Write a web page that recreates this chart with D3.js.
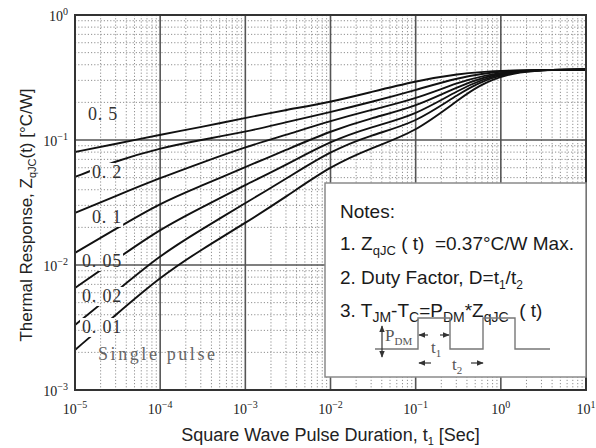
<!doctype html>
<html>
<head>
<meta charset="utf-8">
<title>Transient Thermal Response</title>
<script src="https://cdn.jsdelivr.net/npm/d3@7/dist/d3.min.js"></script>
<style>
  body { margin: 0; background: #fff; }
  svg { display: block; font-family: "Liberation Sans", Arial, sans-serif; }
</style>
</head>
<body>
<div id="chart"></div>
<script>
var pulseTimes = [1e-5, 3e-5, 1e-4, 3e-4, 1e-3, 3e-3, 1e-2, 3e-2, 1e-1, 3e-1, 1, 10];

// Z_thJC (°C/W) for each duty factor
var duty05   = [0.0802, 0.0929, 0.110, 0.127, 0.150, 0.174, 0.201, 0.242, 0.296, 0.337, 0.363, 0.366];
var duty02   = [0.0506, 0.0679, 0.0863, 0.100, 0.116, 0.139, 0.167, 0.201, 0.251, 0.313, 0.363, 0.366];
var duty01   = [0.0261, 0.0356, 0.0497, 0.0655, 0.0879, 0.110, 0.142, 0.174, 0.213, 0.286, 0.363, 0.366];
var duty005  = [0.0125, 0.0194, 0.0313, 0.0429, 0.0608, 0.0832, 0.118, 0.150, 0.184, 0.265, 0.363, 0.366];
var duty002  = [0.00655, 0.0110, 0.0194, 0.0286, 0.0437, 0.0631, 0.0982, 0.127, 0.158, 0.247, 0.363, 0.366];
var duty001  = [0.00331, 0.00608, 0.0120, 0.0191, 0.0313, 0.0488, 0.0817, 0.110, 0.137, 0.229, 0.363, 0.366];
var singlePulse = [0.00209, 0.00398, 0.00802, 0.0132, 0.0217, 0.0350, 0.0619, 0.0863, 0.116, 0.205, 0.363, 0.366];

var seriesList = [duty05, duty02, duty01, duty005, duty002, duty001, singlePulse];

// curve labels: text, t at left edge of text, Z at baseline
var labelTexts = ["0. 5", "0. 2", "0. 1", "0. 05", "0. 02", "0. 01", "Single pulse"];
var labelTimes = [1.42e-5, 1.58e-5, 1.58e-5, 1.21e-5, 1.21e-5, 1.21e-5, 1.86e-5];
var labelZ     = [0.145, 0.0497, 0.0217, 0.00964, 0.00506, 0.00286, 0.00174];

var xTickPowers = [-5, -4, -3, -2, -1, 0, 1];
var yTickPowers = [-3, -2, -1, 0];

var width = 596, height = 448;
var margin = {top: 15, right: 10, bottom: 58, left: 75};

var svg = d3.select("#chart").append("svg")
    .attr("width", width)
    .attr("height", height);

var x = d3.scaleLog().domain([1e-5, 10]).range([margin.left, width - margin.right]);
var y = d3.scaleLog().domain([1e-3, 1]).range([height - margin.bottom, margin.top]);

function isDecade(v) {
    var p = Math.log10(v);
    return Math.abs(p - Math.round(p)) < 1e-9;
}

// grid
var grid = svg.append("g").attr("class", "grid");
var xt = x.ticks(), yt = y.ticks();

grid.selectAll(".xminor").data(xt.filter(function(d) { return !isDecade(d); }))
  .enter().append("line")
    .attr("x1", function(d) { return x(d); }).attr("x2", function(d) { return x(d); })
    .attr("y1", y(1)).attr("y2", y(1e-3))
    .style("stroke", "#8f8f8f").style("stroke-width", 1).style("stroke-dasharray", "1.2,2");

grid.selectAll(".yminor").data(yt.filter(function(d) { return !isDecade(d); }))
  .enter().append("line")
    .attr("y1", function(d) { return y(d); }).attr("y2", function(d) { return y(d); })
    .attr("x1", x(1e-5)).attr("x2", x(10))
    .style("stroke", "#8f8f8f").style("stroke-width", 1).style("stroke-dasharray", "1.2,2");

grid.selectAll(".xmajor").data(xTickPowers.slice(1, -1))
  .enter().append("line")
    .attr("x1", function(d) { return x(Math.pow(10, d)); }).attr("x2", function(d) { return x(Math.pow(10, d)); })
    .attr("y1", y(1)).attr("y2", y(1e-3))
    .style("stroke", "#555").style("stroke-width", 1.6);

grid.selectAll(".ymajor").data(yTickPowers.slice(1, -1))
  .enter().append("line")
    .attr("y1", function(d) { return y(Math.pow(10, d)); }).attr("y2", function(d) { return y(Math.pow(10, d)); })
    .attr("x1", x(1e-5)).attr("x2", x(10))
    .style("stroke", "#555").style("stroke-width", 1.6);

// curve labels first, so the mask can cut the curves around them
var labels = svg.append("g").attr("class", "curve-labels");
labels.selectAll("text").data(labelTexts)
  .enter().append("text")
    .attr("x", function(d, i) { return x(labelTimes[i]); })
    .attr("y", function(d, i) { return y(labelZ[i]); })
    .style("font-family", "'Liberation Serif', 'Times New Roman', serif")
    .style("font-size", "18px")
    .style("letter-spacing", function(d) { return d.length > 6 ? "2.6px" : "0.8px"; })
    .style("fill", function(d) { return d.length > 6 ? "#666" : "#333"; })
    .text(function(d) { return d; });

var defs = svg.append("defs");
var mask = defs.append("mask").attr("id", "cut")
    .attr("maskUnits", "userSpaceOnUse")
    .attr("x", 0).attr("y", 0).attr("width", width).attr("height", height);
mask.append("rect").attr("width", width).attr("height", height).style("fill", "#fff");
labels.selectAll("text").each(function(d) {
    if (d.length > 6) return;
    var b = this.getBBox();
    mask.append("rect")
        .attr("x", b.x - 2).attr("y", b.y + 1)
        .attr("width", b.width + 3).attr("height", b.height - 1)
        .style("fill", "#000");
});

// curves
var line = d3.line()
    .x(function(d, i) { return x(pulseTimes[i]); })
    .y(function(d) { return y(d); })
    .curve(d3.curveBasis);

svg.append("g").attr("mask", "url(#cut)")
  .selectAll("path").data(seriesList)
  .enter().append("path")
    .attr("d", line)
    .style("fill", "none")
    .style("stroke", "#111")
    .style("stroke-width", 1.9);

// frame
svg.append("rect")
    .attr("x", x(1e-5)).attr("y", y(1))
    .attr("width", x(10) - x(1e-5)).attr("height", y(1e-3) - y(1))
    .style("fill", "none").style("stroke", "#333").style("stroke-width", 2);

// tick labels 10^n
function powerLabel(sel) {
    sel.style("font-family", "'Liberation Serif', 'Times New Roman', serif")
       .style("font-size", "14px")
       .style("fill", "#222");
    sel.append("tspan").text("10");
    sel.append("tspan")
        .attr("dy", -6)
        .style("font-size", "10px")
        .text(function(d) { return d < 0 ? "\u2212" + (-d) : String(d); });
}

svg.append("g").selectAll("text").data(xTickPowers)
  .enter().append("text")
    .attr("x", function(d) { return x(Math.pow(10, d)); })
    .attr("y", 414)
    .attr("text-anchor", "middle")
    .call(powerLabel);

svg.append("g").selectAll("text").data(yTickPowers)
  .enter().append("text")
    .attr("x", 68)
    .attr("y", function(d) { return y(Math.pow(10, d)) + 6; })
    .attr("text-anchor", "end")
    .call(powerLabel);

// axis titles
var xTitle = svg.append("text")
    .attr("x", (x(1e-5) + x(10)) / 2)
    .attr("y", 441)
    .attr("text-anchor", "middle")
    .style("font-size", "18px")
    .style("fill", "#222");
xTitle.append("tspan").text("Square Wave Pulse Duration, t");
xTitle.append("tspan").attr("dy", 4).style("font-size", "11px").text("1");
xTitle.append("tspan").attr("dy", -4).text(" [Sec]");

var yTitle = svg.append("text")
    .attr("transform", "translate(32,215) rotate(-90)")
    .attr("text-anchor", "middle")
    .style("font-size", "17px")
    .style("fill", "#222");
yTitle.append("tspan").text("Thermal Response, Z");
yTitle.append("tspan").attr("dy", 4).style("font-size", "11px").text("qJC");
yTitle.append("tspan").attr("dy", -4).text("(t) [\u00B0C/W]");

// notes box
var bx = 325, by = 183, bw = x(10) - 325, bh = 194;
var notes = svg.append("g").attr("class", "notes");
notes.append("rect")
    .attr("x", bx).attr("y", by).attr("width", bw).attr("height", bh)
    .style("fill", "#fff").style("stroke", "#8a8a8a").style("stroke-width", 1.5);

function noteLine(yy) {
    return notes.append("text")
        .attr("x", bx + 15).attr("y", yy)
        .style("white-space", "pre")
        .style("font-size", "19px").style("fill", "#1a1a1a");
}
noteLine(by + 35).text("Notes:");

var n1 = noteLine(by + 67);
n1.append("tspan").text("1. Z");
n1.append("tspan").attr("dy", 5).style("font-size", "13px").text("qJC");
n1.append("tspan").attr("dy", -5).text(" ( t)  =0.37\u00B0C/W Max.");

var n2 = noteLine(by + 101);
n2.append("tspan").text("2. Duty Factor, D=t");
n2.append("tspan").attr("dy", 5).style("font-size", "12px").text("1");
n2.append("tspan").attr("dy", -5).text("/t");
n2.append("tspan").attr("dy", 5).style("font-size", "12px").text("2");

var n3 = noteLine(by + 134);
n3.append("tspan").text("3. T");
n3.append("tspan").attr("dy", 5).style("font-size", "14px").text("JM");
n3.append("tspan").attr("dy", -5).text("-T");
n3.append("tspan").attr("dy", 5).style("font-size", "14px").text("C");
n3.append("tspan").attr("dy", -5).text("=P");
n3.append("tspan").attr("dy", 5).style("font-size", "14px").text("DM");
n3.append("tspan").attr("dy", -5).text("*Z");
n3.append("tspan").attr("dy", 5).style("font-size", "14px").text("qJC");
n3.append("tspan").attr("dy", -5).text("  ( t)");

// pulse train sketch
var wave = notes.append("g").style("stroke", "#777").style("stroke-width", 1.4).style("fill", "none");
var lo = by + 166, hi = by + 135;
wave.append("path").attr("d",
    "M" + (bx + 50) + "," + lo + "H" + (bx + 93) + "V" + hi + "H" + (bx + 125) + "V" + lo +
    "H" + (bx + 158) + "V" + hi + "H" + (bx + 190) + "V" + lo + "H" + (bx + 225));

var arrowDefs = defs.append("marker").attr("id", "arrow")
    .attr("viewBox", "0 0 10 10").attr("refX", 9).attr("refY", 5)
    .attr("markerWidth", 6).attr("markerHeight", 6).attr("orient", "auto-start-reverse");
arrowDefs.append("path").attr("d", "M0,1L10,5L0,9Z").style("fill", "#333");

var arrows = notes.append("g").style("stroke", "#333").style("stroke-width", 1.2);
// P_DM
arrows.append("line").attr("x1", bx + 57).attr("x2", bx + 57).attr("y1", by + 143).attr("y2", by + 174)
    .attr("marker-start", "url(#arrow)").attr("marker-end", "url(#arrow)");
// t1
arrows.append("line").attr("x1", bx + 103).attr("x2", bx + 94).attr("y1", by + 152).attr("y2", by + 152)
    .attr("marker-end", "url(#arrow)");
arrows.append("line").attr("x1", bx + 115).attr("x2", bx + 124).attr("y1", by + 152).attr("y2", by + 152)
    .attr("marker-end", "url(#arrow)");
// t2
arrows.append("line").attr("x1", bx + 106).attr("x2", bx + 94).attr("y1", by + 180).attr("y2", by + 180)
    .attr("marker-end", "url(#arrow)");
arrows.append("line").attr("x1", bx + 146).attr("x2", bx + 158).attr("y1", by + 180).attr("y2", by + 180)
    .attr("marker-end", "url(#arrow)");

function serifText(xx, yy, main, sub) {
    var t = notes.append("text").attr("x", xx).attr("y", yy)
        .style("font-family", "'Liberation Serif', 'Times New Roman', serif")
        .style("font-size", "17px").style("fill", "#555");
    t.append("tspan").text(main);
    t.append("tspan").attr("dy", 4).style("font-size", "11px").text(sub);
}
serifText(bx + 60, by + 158, "P", "DM");
serifText(bx + 106, by + 170, "t", "1");
serifText(bx + 127, by + 187, "t", "2");
</script>
</body>
</html>
